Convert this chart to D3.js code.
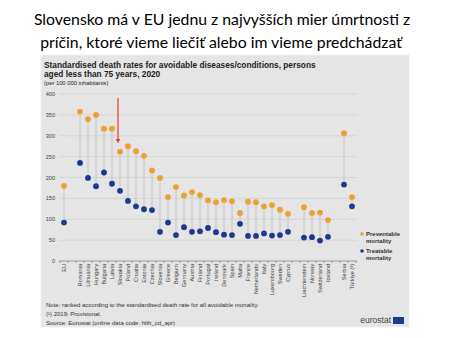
<!DOCTYPE html>
<html>
<head>
<meta charset="utf-8">
<script src="https://cdn.jsdelivr.net/npm/d3@7"></script>
<style>
  html, body { margin: 0; padding: 0; background: #fff; }
  svg { display: block; }
</style>
</head>
<body>
<div id="wrapper"></div>
<script>
// data (per 100 000 inhabitants)
const countries = ["EU", "gap1",
  "Romania", "Lithuania", "Hungary", "Bulgaria", "Latvia", "Slovakia", "Poland", "Croatia",
  "Estonia", "Czechia", "Slovenia", "Greece", "Belgium", "Germany", "Austria", "Finland",
  "Portugal", "Ireland", "Denmark", "Spain", "Malta", "France", "Netherlands", "Italy",
  "Luxembourg", "Sweden", "Cyprus", "gap2",
  "Liechtenstein", "Norway", "Switzerland", "Iceland", "gap3",
  "Serbia", "Türkiye (¹)"]

const preventable = [180, null,
  358, 340, 350, 317, 317, 262, 275, 263,
  252, 217, 199, 153, 177, 157, 165, 158,
  145, 141, 146, 143, 115, 142, 141, 131,
  134, 123, 113, null,
  129, 115, 116, 98, null,
  306, 153]

const treatable = [92, null,
  235, 199, 179, 212, 185, 168, 144, 131,
  124, 122, 70, 92, 62, 81, 70, 71,
  79, 69, 63, 62, 89, 60, 60, 66,
  61, 62, 70, null,
  56, 57, 49, 58, null,
  183, 131]

const yTicks = [0, 50, 100, 150, 200, 250, 300, 350, 400]

const colors = { prev: "#EBA134", treat: "#1B3A8E" }

function drawChart() {
  const width = 450
  const height = 338

  const svg = d3.select("#wrapper")
    .append("svg")
    .attr("width", width)
    .attr("height", height)

  // slide heading
  const heading = svg.append("g")
    .attr("font-family", "Lato, 'Open Sans', sans-serif")
    .attr("font-size", 15.8)
    .attr("fill", "#000")
    .attr("text-anchor", "middle")
  heading.append("text").attr("x", 222).attr("y", 25)
    .text("Slovensko má v EU jednu z najvyšších mier úmrtnosti z")
  heading.append("text").attr("x", 221).attr("y", 48)
    .text("príčin, ktoré vieme liečiť alebo im vieme predchádzať")

  // grey panel
  svg.append("rect")
    .attr("x", 41).attr("y", 55)
    .attr("width", 368).attr("height", 272)
    .attr("fill", "#e5e5e5")
    .attr("stroke", "#efefef")

  const font = "'Liberation Sans', Arial, sans-serif"

  const title = svg.append("g").attr("font-family", font).attr("fill", "#222")
  title.append("text").attr("x", 44).attr("y", 68)
    .attr("font-size", 8.3).attr("font-weight", "bold")
    .text("Standardised death rates for avoidable diseases/conditions, persons")
  title.append("text").attr("x", 44).attr("y", 77)
    .attr("font-size", 8.3).attr("font-weight", "bold")
    .text("aged less than 75 years, 2020")
  title.append("text").attr("x", 44).attr("y", 85)
    .attr("font-size", 5.8)
    .text("(per 100 000 inhabitants)")

  // scales
  const xScale = d3.scalePoint()
    .domain(countries)
    .range([64, 352])

  const yScale = d3.scaleLinear()
    .domain([0, 400])
    .range([261, 94])

  const step = xScale.step()
  const x0 = xScale.range()[0] - step / 2 - 1
  const x1 = xScale.range()[1] + step / 2 + 1

  // grid
  svg.append("g")
    .selectAll("line")
    .data(yTicks.filter(d => d > 0))
    .join("line")
    .attr("x1", x0).attr("x2", x1)
    .attr("y1", d => yScale(d)).attr("y2", d => yScale(d))
    .attr("stroke", "#cfcfcf")
    .attr("stroke-width", 0.7)

  // y labels
  svg.append("g")
    .attr("font-family", font)
    .attr("font-size", 5.6)
    .attr("fill", "#444")
    .attr("text-anchor", "end")
    .selectAll("text")
    .data(yTicks)
    .join("text")
    .attr("x", 55)
    .attr("y", d => yScale(d) + 2)
    .text(d => d)

  // x axis
  const xAxisGenerator = d3.axisBottom(xScale)
    .tickSize(0)
    .tickFormat(d => d.startsWith("gap") ? "" : d)

  const xAxis = svg.append("g")
    .attr("transform", `translate(0, ${yScale(0)})`)
    .call(xAxisGenerator)

  xAxis.select(".domain").remove()
  xAxis.append("line")
    .attr("x1", x0).attr("x2", x1)
    .attr("stroke", "#777").attr("stroke-width", 0.7)

  xAxis.selectAll(".bound")
    .data(d3.range(countries.length + 1))
    .join("line")
    .attr("class", "bound")
    .attr("x1", i => x0 + 1 + i * step).attr("x2", i => x0 + 1 + i * step)
    .attr("y1", 0).attr("y2", 2)
    .attr("stroke", "#777").attr("stroke-width", 0.6)

  xAxis.selectAll(".tick text")
    .attr("font-family", font)
    .attr("font-size", 5.6)
    .attr("fill", "#444")
    .attr("text-anchor", "end")
    .attr("transform", "rotate(-90)")
    .attr("x", -3)
    .attr("y", 0)
    .attr("dy", "0.35em")

  // stems
  const rows = countries.map((c, i) => ({ c, p: preventable[i], t: treatable[i] }))
    .filter(d => d.p !== null)

  svg.append("g")
    .selectAll("line")
    .data(rows)
    .join("line")
    .attr("x1", d => xScale(d.c)).attr("x2", d => xScale(d.c))
    .attr("y1", d => yScale(d.p)).attr("y2", d => yScale(d.t))
    .attr("stroke", "#bdbdbd")
    .attr("stroke-width", 0.8)

  svg.append("g")
    .selectAll("circle")
    .data(rows)
    .join("circle")
    .attr("cx", d => xScale(d.c))
    .attr("cy", d => yScale(d.p))
    .attr("r", 2.9)
    .attr("fill", colors.prev)

  svg.append("g")
    .selectAll("circle")
    .data(rows)
    .join("circle")
    .attr("cx", d => xScale(d.c))
    .attr("cy", d => yScale(d.t))
    .attr("r", 2.9)
    .attr("fill", colors.treat)

  // red arrow pointing at Slovakia
  const ax = xScale("Slovakia") - 2
  svg.append("defs").append("marker")
    .attr("id", "head")
    .attr("viewBox", "0 0 10 10")
    .attr("refX", 5).attr("refY", 5)
    .attr("markerWidth", 4).attr("markerHeight", 4)
    .attr("orient", "auto")
    .append("path")
    .attr("d", "M0,0L10,5L0,10z")
    .attr("fill", "#e2402b")
  svg.append("line")
    .attr("x1", ax).attr("x2", ax)
    .attr("y1", 98).attr("y2", 141)
    .attr("stroke", "#e2402b")
    .attr("stroke-width", 1.2)
    .attr("marker-end", "url(#head)")

  // legend
  const legend = svg.append("g")
    .attr("font-family", font)
    .attr("font-size", 6)
    .attr("font-weight", "bold")
    .attr("fill", "#333")
  const items = [
    { label: ["Preventable", "mortality"], color: colors.prev, y: 234 },
    { label: ["Treatable", "mortality"], color: colors.treat, y: 251 }
  ]
  items.forEach(it => {
    legend.append("circle").attr("cx", 362).attr("cy", it.y).attr("r", 1.8).attr("fill", it.color)
    legend.append("text").attr("x", 366).attr("y", it.y + 2).text(it.label[0])
    legend.append("text").attr("x", 366).attr("y", it.y + 9).text(it.label[1])
  })

  // notes
  const notes = svg.append("g")
    .attr("font-family", font)
    .attr("font-size", 6)
    .attr("fill", "#333")
  notes.append("text").attr("x", 46).attr("y", 307)
    .text("Note: ranked according to the standardised death rate for all avoidable mortality.")
  notes.append("text").attr("x", 46).attr("y", 316)
    .text("(¹) 2019: Provisional.")
  notes.append("text").attr("x", 46).attr("y", 325)
    .text("Source: Eurostat (online data code: hlth_cd_apr)")

  // logo
  svg.append("text")
    .attr("x", 391).attr("y", 323)
    .attr("text-anchor", "end")
    .attr("font-family", font)
    .attr("font-size", 8.5)
    .attr("fill", "#444")
    .text("eurostat")
  svg.append("rect")
    .attr("x", 393).attr("y", 317)
    .attr("width", 11).attr("height", 7)
    .attr("fill", "#1B3A8E")
}
drawChart()
</script>
</body>
</html>
